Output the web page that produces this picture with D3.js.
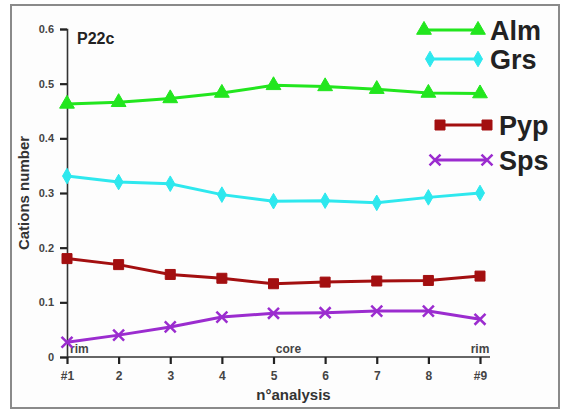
<!DOCTYPE html>
<html>
<head>
<meta charset="utf-8">
<script src="https://cdn.jsdelivr.net/npm/d3@7"></script>
<style>
  html, body { margin: 0; padding: 0; background: #fff; }
  text { font-family: "Liberation Sans", Arial, sans-serif; }
</style>
</head>
<body>
<div id="chart"></div>
<script>
// analysis points along the profile, rim -> core -> rim
const categories = ['#1', '2', '3', '4', '5', '6', '7', '8', '#9'];
const almValues = [0.463, 0.466, 0.473, 0.483, 0.497, 0.495, 0.490, 0.483, 0.482];
const grsValues = [0.331, 0.320, 0.317, 0.297, 0.285, 0.286, 0.282, 0.292, 0.300];
const pypValues = [0.180, 0.169, 0.151, 0.144, 0.134, 0.137, 0.139, 0.140, 0.148];
const spsValues = [0.027, 0.040, 0.055, 0.073, 0.080, 0.081, 0.084, 0.084, 0.069];
const yTicks = [0, 0.1, 0.2, 0.3, 0.4, 0.5, 0.6];
const zoneLabels = [
  { cat: '#1', text: 'rim' },
  { cat: '5', text: 'core' },
  { cat: '#9', text: 'rim' },
];

const width = 563;
const height = 412;
const margin = { top: 29, right: 83, bottom: 55, left: 67 };

const series = [
  { name: 'Alm', values: almValues, color: '#22e61e', symbol: d3.symbolTriangle, size: 95, lx: [424, 478], ly: 30 },
  { name: 'Grs', values: grsValues, color: '#2ee8ee', symbol: d3.symbolDiamond, size: 70, lx: [430, 478], ly: 59 },
  { name: 'Pyp', values: pypValues, color: '#a30f10', symbol: d3.symbolSquare, size: 100, lx: [440, 487], ly: 125 },
  { name: 'Sps', values: spsValues, color: '#9b2ccf', symbol: d3.symbolX, size: 80, lx: [435, 487], ly: 160 },
];

const x = d3
  .scalePoint()
  .domain(categories)
  .range([margin.left, width - margin.right]);

const y = d3
  .scaleLinear()
  .domain([0, 0.6])
  .range([height - margin.bottom, margin.top]);

const svg = d3
  .select('#chart')
  .append('svg')
  .attr('width', width)
  .attr('height', height);

// outer grey frame
svg
  .append('rect')
  .attr('x', 11)
  .attr('y', 5)
  .attr('width', 548)
  .attr('height', 403)
  .attr('fill', '#fdfdfd')
  .attr('stroke', '#8a8a8a')
  .attr('stroke-width', 2);

// Y axis
const yAxis = svg
  .append('g')
  .attr('transform', `translate(${margin.left},0)`)
  .call(
    d3
      .axisLeft(y)
      .tickValues(yTicks)
      .tickFormat(d => (d === 0 ? '0' : d3.format('.1f')(d)))
      .tickSize(7)
      .tickPadding(6)
  );
yAxis.select('.domain').attr('stroke', '#333').attr('stroke-width', 1.6);
yAxis.selectAll('.tick line').attr('stroke', '#222').attr('stroke-width', 2.2);
yAxis
  .selectAll('.tick text')
  .attr('font-size', 11)
  .attr('font-weight', 'bold')
  .attr('fill', '#444');

// X axis
const xAxis = svg
  .append('g')
  .attr('transform', `translate(0,${height - margin.bottom})`)
  .call(d3.axisBottom(x).tickSize(7).tickPadding(7));
xAxis
  .select('.domain')
  .attr('stroke', '#333')
  .attr('stroke-width', 1.6)
  .attr('d', `M${margin.left},0H${width - margin.right + 10}`);
xAxis.selectAll('.tick line').attr('stroke', '#222').attr('stroke-width', 2.2);
xAxis
  .selectAll('.tick text')
  .attr('font-size', 12)
  .attr('font-weight', 'bold')
  .attr('fill', '#444');

// axis titles
svg
  .append('text')
  .attr('transform', `translate(29,${y(0.3)}) rotate(-90)`)
  .attr('text-anchor', 'middle')
  .attr('font-size', 15)
  .attr('font-weight', 'bold')
  .attr('fill', '#333')
  .text('Cations number');

svg
  .append('text')
  .attr('x', x('5') + 20)
  .attr('y', 400)
  .attr('text-anchor', 'middle')
  .attr('font-size', 15)
  .attr('font-weight', 'bold')
  .attr('fill', '#333')
  .text('n°analysis');

// sample name
svg
  .append('text')
  .attr('x', 77)
  .attr('y', 44)
  .attr('font-size', 16)
  .attr('font-weight', 'bold')
  .attr('fill', '#222')
  .text('P22c');

// rim / core labels sitting on the x axis
svg
  .append('g')
  .selectAll('text')
  .data(zoneLabels)
  .join('text')
  .attr('x', d => (d.cat === '#1' ? x(d.cat) + 3 : x(d.cat) + (d.cat === '5' ? 15 : 0)))
  .attr('y', height - margin.bottom - 4)
  .attr('text-anchor', d => (d.cat === '#1' ? 'start' : 'middle'))
  .attr('font-size', 12)
  .attr('font-weight', 'bold')
  .attr('fill', '#444')
  .text(d => d.text);

// Lines and markers
const line = d3
  .line()
  .x((d, i) => x(categories[i]))
  .y(d => y(d));

series.forEach(s => {
  const g = svg.append('g');
  g.append('path')
    .datum(s.values)
    .attr('fill', 'none')
    .attr('stroke', s.color)
    .attr('stroke-width', 3)
    .attr('d', line);

  g.selectAll('path.marker')
    .data(s.values)
    .join('path')
    .attr('class', 'marker')
    .attr('transform', (d, i) => `translate(${x(categories[i])},${y(d)})`)
    .attr('d', d3.symbol().type(s.symbol).size(s.size))
    .attr('fill', s.symbol === d3.symbolX ? 'none' : s.color)
    .attr('stroke', s.color)
    .attr('stroke-width', s.symbol === d3.symbolX ? 2.5 : 1);
});

// Legend
const legend = svg
  .append('g')
  .selectAll('g')
  .data(series)
  .join('g');

legend.each(function (s) {
  const item = d3.select(this);
  item
    .append('line')
    .attr('x1', s.lx[0])
    .attr('x2', s.lx[1])
    .attr('y1', s.ly)
    .attr('y2', s.ly)
    .attr('stroke', s.color)
    .attr('stroke-width', 3);
  item
    .selectAll('path')
    .data(s.lx)
    .join('path')
    .attr('transform', d => `translate(${d},${s.ly})`)
    .attr('d', d3.symbol().type(s.symbol).size(s.size))
    .attr('fill', s.symbol === d3.symbolX ? 'none' : s.color)
    .attr('stroke', s.color)
    .attr('stroke-width', s.symbol === d3.symbolX ? 2.5 : 1);
  item
    .append('text')
    .attr('x', s.lx[1] + 12)
    .attr('y', s.ly)
    .attr('dy', '0.36em')
    .attr('font-size', 27)
    .attr('font-weight', 'bold')
    .attr('fill', '#222')
    .text(s.name);
});
</script>
</body>
</html>
